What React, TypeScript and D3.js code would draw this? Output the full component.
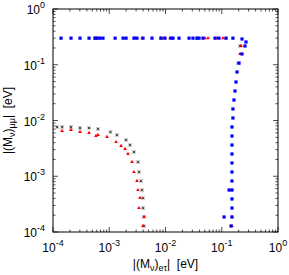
import React, { useEffect, useRef } from "react";
import * as d3 from "d3";

// |(M_nu)_etau| vs |(M_nu)_mumu| in eV
const blueX = [
  1.39e-4, 2.09e-4, 3.02e-4, 4.37e-4, 5.58e-4, 6.06e-4, 6.85e-4, 7.74e-4, 1.27e-3, 1.76e-3,
  1.99e-3, 2.75e-3, 3.11e-3, 3.98e-3, 5.75e-3, 8.32e-3, 9.8e-3, 1.25e-2, 1.36e-2, 1.74e-2,
  2.62e-2, 3.08e-2, 3.63e-2, 3.94e-2, 4.64e-2, 7.59e-2, 8.93e-2, 0.119, 0.158,
  0.229, 0.27, 0.259, 0.229, 0.203, 0.187, 0.179, 0.172, 0.165, 0.158, 0.158, 0.152, 0.152,
  0.152, 0.152, 0.152, 0.152, 0.152, 0.135, 0.152, 0.152, 0.152, 0.11, 0.152, 0.146,
];
const blueY = [
  0.3, 0.3, 0.3, 0.3, 0.3, 0.3, 0.3, 0.3, 0.3, 0.3,
  0.3, 0.3, 0.3, 0.3, 0.3, 0.3, 0.3, 0.3, 0.3, 0.3,
  0.3, 0.3, 0.3, 0.3, 0.3, 0.3, 0.3, 0.3, 0.3,
  0.29, 0.256, 0.217, 0.156, 0.107, 0.0741, 0.049, 0.0338, 0.0233, 0.0161, 0.0111, 7.64e-3, 5.27e-3,
  3.63e-3, 2.51e-3, 1.73e-3, 1.19e-3, 8.22e-4, 5.66e-4, 5.66e-4, 3.91e-4, 2.69e-4, 1.86e-4, 1.86e-4, 1.28e-4,
];

const redX = [
  1.45e-4, 2.09e-4, 3.02e-4, 4.37e-4, 5.81e-4, 6.31e-4, 9.12e-4, 1.32e-3, 1.62e-3, 1.91e-3,
  2.15e-3, 2.54e-3, 2.75e-3, 3.11e-3, 3.24e-3, 3.52e-3, 3.38e-3, 4.15e-3, 3.98e-3,
  5.81e-4, 6.31e-4, 2.87e-3, 3.82e-3, 8.32e-3, 9.4e-3, 1.2e-2, 5.04e-2, 5.7e-2, 8.24e-2, 0.105, 0.119,
  0.22, 0.211, 0.152, 0.152, 0.152,
];
const redY = [
  6.48e-3, 6.76e-3, 6.22e-3, 5.97e-3, 5.27e-3, 5.5e-3, 5.06e-3, 4.11e-3, 3.49e-3, 3.08e-3,
  2.51e-3, 1.8e-3, 1.19e-3, 8.22e-4, 5.66e-4, 4.07e-4, 2.69e-4, 1.86e-4, 1.28e-4,
  0.3, 0.3, 0.3, 0.3, 0.3, 0.3, 0.3, 0.3, 0.3, 0.3, 0.3, 0.3,
  0.217, 0.156, 5.66e-4, 1.86e-4, 1.28e-4,
];

const blackX = [
  1.18e-4, 1.45e-4, 2.09e-4, 3.02e-4, 4.37e-4, 6.31e-4, 1.05e-3, 1.37e-3, 1.99e-3, 2.34e-3,
  2.75e-3, 3.24e-3, 3.38e-3, 3.67e-3, 3.82e-3, 3.98e-3, 3.98e-3, 4.15e-3, 4.15e-3,
  5.58e-4, 8.32e-3, 3.63e-2, 0.211, 0.196,
];
const blackY = [
  7.64e-3, 7.64e-3, 7.64e-3, 7.34e-3, 7.34e-3, 7.05e-3, 6.22e-3, 5.5e-3, 4.47e-3, 3.63e-3,
  2.72e-3, 1.8e-3, 1.19e-3, 8.22e-4, 5.66e-4, 4.07e-4, 2.69e-4, 1.86e-4, 1.28e-4,
  0.3, 0.3, 0.3, 0.217, 0.107,
];

const decades = [-4, -3, -2, -1, 0];
const yDecades = [-4, -3, -2, -1, 0];

const width = 289;
const height = 275;
const margin = { top: 9, right: 11, bottom: 43, left: 53 };

const App = () => {
  const svgRef = useRef<SVGSVGElement>(null);

  useEffect(() => {
    const svg = d3.select(svgRef.current);
    svg.selectAll("*").remove();

    const x = d3.scaleLog().domain([1e-4, 1]).range([margin.left, width - margin.right]);
    const y = d3.scaleLog().domain([1e-4, 1]).range([height - margin.bottom, margin.top]);
    const [x0, x1] = x.range();
    const [y0, y1] = y.range();

    const font = "Liberation Sans, Arial, Helvetica, sans-serif";

    // ticks on all four sides
    const minor: number[] = [];
    for (let e = -4; e < 0; e++) for (let m = 2; m <= 9; m++) minor.push(m * Math.pow(10, e));
    const majors = decades.map((e) => Math.pow(10, e));
    const ticks = svg.append("g").attr("stroke", "#000").attr("stroke-width", 0.7);
    const tick = (v: number, len: number) => {
      ticks.append("line").attr("x1", x(v)).attr("x2", x(v)).attr("y1", y0).attr("y2", y0 - len);
      ticks.append("line").attr("x1", x(v)).attr("x2", x(v)).attr("y1", y1).attr("y2", y1 + len);
      ticks.append("line").attr("y1", y(v)).attr("y2", y(v)).attr("x1", x0).attr("x2", x0 + len);
      ticks.append("line").attr("y1", y(v)).attr("y2", y(v)).attr("x1", x1).attr("x2", x1 - len);
    };
    minor.forEach((v) => tick(v, 2.5));
    majors.forEach((v) => tick(v, 5));

    // data: black crosses, red triangles, blue squares
    const blk = svg.append("g");
    blackX.forEach((vx, i) => {
      const cx = x(vx), cy = y(blackY[i]);
      blk.append("rect").attr("x", cx - 1.7).attr("y", cy - 1.7).attr("width", 3.4).attr("height", 3.4)
        .attr("fill", "#c4c4c4");
      blk.append("path").attr("d", `M${cx - 1.2},${cy - 1.2}L${cx + 1.2},${cy + 1.2}M${cx - 1.2},${cy + 1.2}L${cx + 1.2},${cy - 1.2}`)
        .attr("stroke", "#333").attr("stroke-width", 0.8);
    });

    const tri = d3.symbol().type(d3.symbolTriangle).size(6);
    svg.append("g").selectAll("path").data(redX).join("path")
      .attr("d", tri)
      .attr("transform", (d, i) => `translate(${x(d)},${y(redY[i])})`)
      .attr("fill", "#ff0000");

    svg.append("g").selectAll("rect").data(blueX).join("rect")
      .attr("x", (d) => x(d) - 1.6)
      .attr("y", (d, i) => y(blueY[i]) - 1.6)
      .attr("width", 3.2).attr("height", 3.2)
      .attr("fill", "#0000ff");

    // frame
    svg.append("rect").attr("x", x0).attr("y", y1).attr("width", x1 - x0).attr("height", y0 - y1)
      .attr("fill", "none").attr("stroke", "#000").attr("stroke-width", 1);

    // tick labels
    decades.forEach((e) => {
      const t = svg.append("text").attr("x", x(Math.pow(10, e))).attr("y", y0 + 20)
        .attr("text-anchor", "middle").attr("font-family", font).attr("font-size", 12);
      t.append("tspan").text("10");
      t.append("tspan").attr("dy", -6).attr("font-size", 9).text(String(e));
    });
    yDecades.forEach((e) => {
      const t = svg.append("text").attr("x", x0 - 8).attr("y", y(Math.pow(10, e)) + 5)
        .attr("text-anchor", "end").attr("font-family", font).attr("font-size", 12);
      t.append("tspan").text("10");
      t.append("tspan").attr("dy", -6).attr("font-size", 9).text(String(e));
    });

    // axis titles
    const xt = svg.append("text").attr("x", (x0 + x1) / 2).attr("y", height - 7)
      .attr("text-anchor", "middle").attr("font-family", font).attr("font-size", 12);
    xt.append("tspan").text("|(M");
    xt.append("tspan").attr("dy", 3).attr("font-size", 9).text("ν");
    xt.append("tspan").attr("dy", -3).text(")");
    xt.append("tspan").attr("dy", 3).attr("font-size", 9).text("eτ");
    xt.append("tspan").attr("dy", -3).text("|\u00a0\u00a0[eV]");

    const yt = svg.append("text")
      .attr("transform", `translate(12,${(y0 + y1) / 2}) rotate(-90)`)
      .attr("text-anchor", "middle").attr("font-family", font).attr("font-size", 12);
    yt.append("tspan").text("|(M");
    yt.append("tspan").attr("dy", 3).attr("font-size", 9).text("ν");
    yt.append("tspan").attr("dy", -3).text(")");
    yt.append("tspan").attr("dy", 3).attr("font-size", 9).text("μμ");
    yt.append("tspan").attr("dy", -3).text("|\u00a0\u00a0[eV]");
  }, []);

  return (
    <svg ref={svgRef} width={width} height={height}
      style={{ position: "absolute", left: 0, top: 0, background: "#fff" }} />
  );
};

export default App;
